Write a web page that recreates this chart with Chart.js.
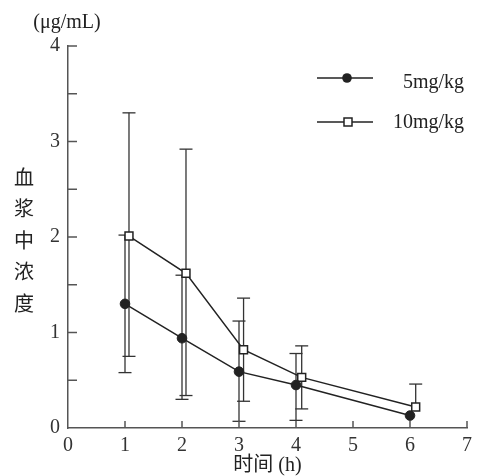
<!DOCTYPE html>
<html>
<head>
<meta charset="utf-8">
<script src="https://cdn.jsdelivr.net/npm/chart.js@4/dist/chart.umd.min.js"></script>
<style>
  html, body { margin: 0; padding: 0; background: #ffffff; }
  #wrap { width: 493px; height: 476px; }
</style>
</head>
<body>
<div id="wrap"><canvas id="c" width="493" height="476"></canvas></div>
<script>
// ---- Data ----
const seriesNames = ['5mg/kg', '10mg/kg'];
const xTickLabels = ['0', '1', '2', '3', '4', '5', '6', '7'];
const yTickLabels = ['0', '1', '2', '3', '4'];

const time5 = [1, 2, 3, 4, 6];
const conc5 = [1.30, 0.94, 0.59, 0.45, 0.13];
const low5  = [0.58, 0.30, 0.07, 0.08, null];
const high5 = [2.02, 1.60, 1.12, 0.78, null];

const time10 = [1.07, 2.07, 3.08, 4.10, 6.10];
const conc10 = [2.01, 1.62, 0.82, 0.53, 0.22];
const low10  = [0.75, 0.34, 0.28, 0.20, null];
const high10 = [3.30, 2.92, 1.36, 0.86, 0.46];

const yAxisUnit = '(μg/mL)';
const yAxisName = '血浆中浓度';
const xAxisName = '时间 (h)';

const INK = '#222222';
const AXIS = '#555555';
const SERIF = "'Liberation Serif', 'Noto Sans CJK SC', serif";
const FS = 20;

function pts(xs, ys) { return xs.map((x, i) => ({ x: x, y: ys[i] })); }

const errorSets = [
  { t: time5, c: conc5, lo: low5, hi: high5 },
  { t: time10, c: conc10, lo: low10, hi: high10 }
];

const errorBars = {
  id: 'errorBars',
  beforeDatasetsDraw(chart) {
    const ctx = chart.ctx;
    const xs = chart.scales.x, ys = chart.scales.y;
    ctx.save();
    ctx.strokeStyle = '#333333';
    ctx.lineWidth = 1.3;
    const cap = 6.5;
    errorSets.forEach(s => {
      s.t.forEach((tv, i) => {
        const px = xs.getPixelForValue(tv);
        const yc = ys.getPixelForValue(s.c[i]);
        [s.hi[i], s.lo[i]].forEach(v => {
          if (v == null) return;
          const ye = ys.getPixelForValue(v);
          ctx.beginPath(); ctx.moveTo(px, yc); ctx.lineTo(px, ye); ctx.stroke();
          ctx.beginPath(); ctx.moveTo(px - cap, ye); ctx.lineTo(px + cap, ye); ctx.stroke();
        });
      });
    });
    ctx.restore();
  }
};

const decorations = {
  id: 'decorations',
  afterDraw(chart) {
    const ctx = chart.ctx;
    const xs = chart.scales.x, ys = chart.scales.y;
    const area = chart.chartArea;
    ctx.save();
    // inward ticks
    ctx.strokeStyle = AXIS;
    ctx.lineWidth = 1.5;
    ys.ticks.forEach(t => {
      if (t.value === 0) return;
      const py = ys.getPixelForValue(t.value);
      ctx.beginPath(); ctx.moveTo(area.left, py); ctx.lineTo(area.left + 9, py); ctx.stroke();
    });
    xs.ticks.forEach(t => {
      if (t.value === 0) return;
      const px = xs.getPixelForValue(t.value);
      ctx.beginPath(); ctx.moveTo(px, area.bottom); ctx.lineTo(px, area.bottom - 7); ctx.stroke();
    });
    // y axis unit
    ctx.fillStyle = INK;
    ctx.font = FS + "px " + SERIF;
    ctx.textAlign = 'center';
    ctx.textBaseline = 'middle';
    ctx.fillText(yAxisUnit, 67, 23);
    // vertical Chinese axis name
    ctx.font = FS + "px 'Noto Sans CJK SC', sans-serif";
    Array.from(yAxisName).forEach((ch, i) => { ctx.fillText(ch, 24, 177 + i * 31.5); });
    // legend
    const ds = chart.data.datasets;
    const rows = [78, 122];
    ds.forEach((d, i) => {
      const y = rows[i];
      ctx.strokeStyle = INK; ctx.lineWidth = 1.5;
      ctx.beginPath(); ctx.moveTo(317, y); ctx.lineTo(373, y); ctx.stroke();
      if (d.pointStyle === 'circle') {
        ctx.fillStyle = INK;
        ctx.beginPath(); ctx.arc(347, y, 4.8, 0, Math.PI * 2); ctx.fill();
      } else {
        ctx.fillStyle = '#ffffff';
        ctx.fillRect(344, y - 4, 8, 8);
        ctx.strokeRect(344, y - 4, 8, 8);
      }
      ctx.fillStyle = INK;
      ctx.font = FS + "px " + SERIF;
      ctx.textAlign = 'right';
      ctx.fillText(d.label, 464, y + (i === 0 ? 5 : 1));
    });
    ctx.restore();
  }
};

new Chart(document.getElementById('c'), {
  type: 'line',
  data: {
    datasets: [
      {
        label: seriesNames[0],
        data: pts(time5, conc5),
        borderColor: INK, borderWidth: 1.5,
        pointStyle: 'circle', pointRadius: 4.8,
        pointBackgroundColor: INK, pointBorderColor: INK, pointBorderWidth: 1,
        fill: false, tension: 0
      },
      {
        label: seriesNames[1],
        data: pts(time10, conc10),
        borderColor: INK, borderWidth: 1.5,
        pointStyle: 'rect', pointRadius: 5.6,
        pointBackgroundColor: '#ffffff', pointBorderColor: INK, pointBorderWidth: 1.5,
        fill: false, tension: 0
      }
    ]
  },
  options: {
    responsive: false,
    animation: false,
    devicePixelRatio: 1,
    layout: { padding: { top: 46, right: 26, left: 0, bottom: 0 } },
    plugins: { legend: { display: false }, tooltip: { enabled: false } },
    scales: {
      x: {
        type: 'linear', min: 0, max: 7,
        afterFit(s) { s.height = 48; },
        grid: { display: true, drawOnChartArea: false, drawTicks: false },
        border: { display: true, color: AXIS, width: 1.5 },
        ticks: {
          stepSize: 1, padding: 6, color: '#333333',
          font: { family: SERIF, size: FS },
          callback: (v) => xTickLabels[v] !== undefined ? xTickLabels[v] : ''
        },
        title: {
          display: true, text: xAxisName, color: INK,
          font: { family: SERIF, size: FS, lineHeight: 1 },
          padding: { top: 0, bottom: 0 }
        }
      },
      y: {
        type: 'linear', min: 0, max: 4,
        afterFit(s) { s.width = 68; },
        grid: { display: true, drawOnChartArea: false, drawTicks: false },
        border: { display: true, color: AXIS, width: 1.5 },
        ticks: {
          stepSize: 0.5, padding: 8, color: '#333333',
          font: { family: SERIF, size: FS },
          callback: (v) => Number.isInteger(v) ? yTickLabels[v] : ''
        }
      }
    }
  },
  plugins: [errorBars, decorations]
});
</script>
</body>
</html>
